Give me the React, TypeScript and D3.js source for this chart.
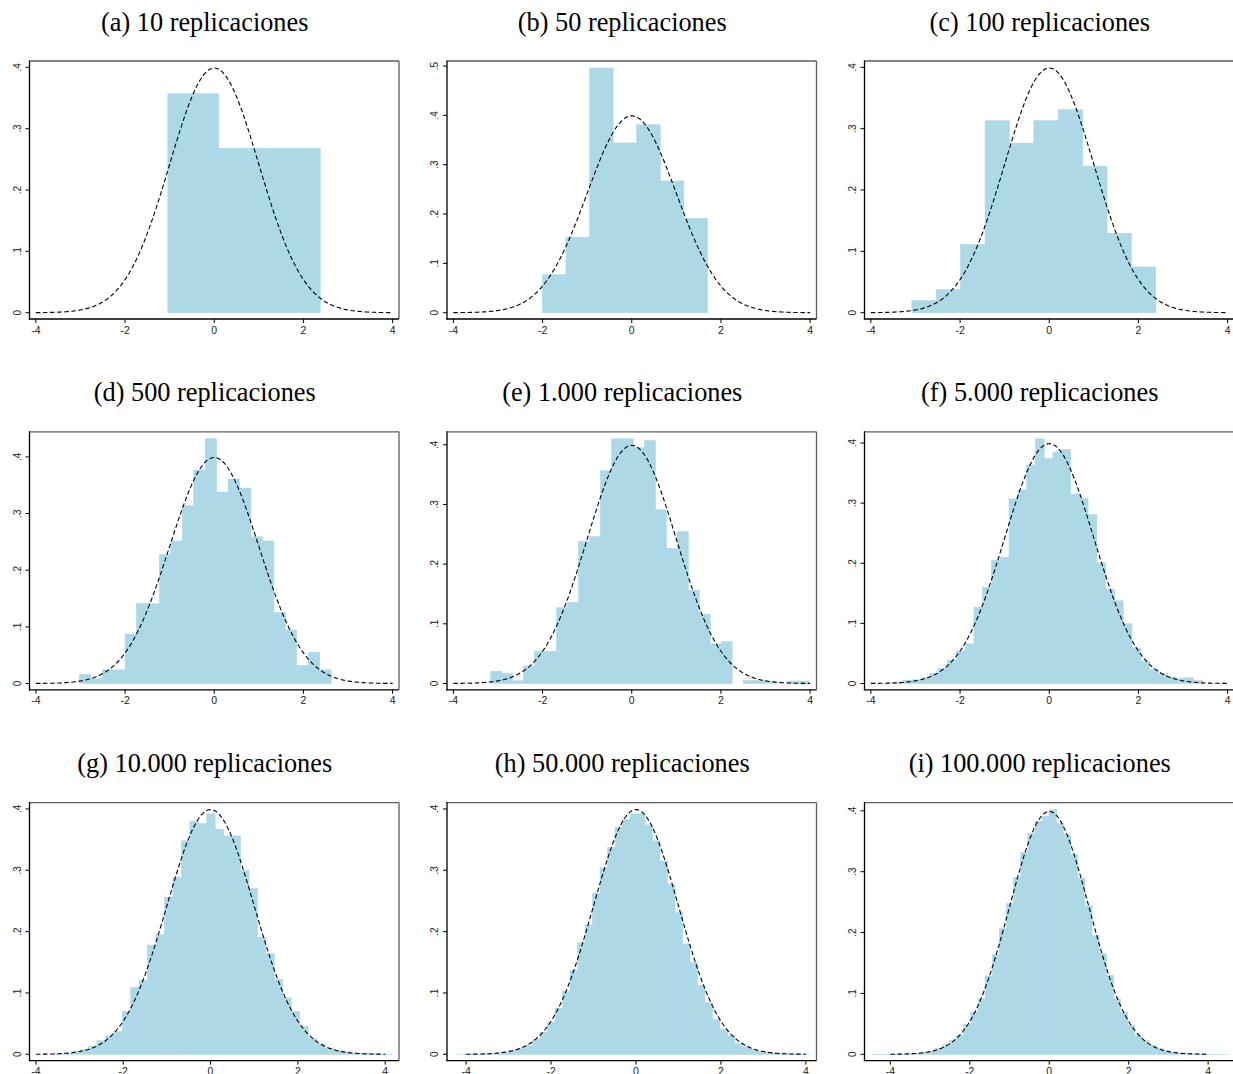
import React from "react";
import * as d3 from "d3";

// Panel titles, in reading order
const panelTitles = [
  "(a) 10 replicaciones",
  "(b) 50 replicaciones",
  "(c) 100 replicaciones",
  "(d) 500 replicaciones",
  "(e) 1.000 replicaciones",
  "(f) 5.000 replicaciones",
  "(g) 10.000 replicaciones",
  "(h) 50.000 replicaciones",
  "(i) 100.000 replicaciones",
];

// Left edge of the first bin and bin width for each histogram
const binStarts = [-1.04, -2.004, -3.08, -3.025, -3.163, -3.66, -3.57, -4.2, -4.4875];
const binWidths = [1.139, 0.5287, 0.547, 0.2566, 0.2462, 0.197, 0.1935, 0.1765, 0.1795];

// Horizontal axis limits of each panel
const xDomains: [number, number][] = [
  [-4, 4], [-4, 4], [-4, 4],
  [-4, 4], [-4, 4], [-4, 4],
  [-4, 4.17], [-4.3, 4.1], [-4.49, 4.49],
];

// Bin densities per histogram
const densA = [0.357, 0.268, 0.268];
const densB = [0.077, 0.153, 0.496, 0.344, 0.381, 0.267, 0.191];
const densC = [0.0196, 0.0376, 0.111, 0.313, 0.2765, 0.313, 0.331, 0.239, 0.1295, 0.0746];
const densD = [
  0.0158, 0.0082, 0.024, 0.024, 0.0874, 0.141, 0.141, 0.2276, 0.2516, 0.3138, 0.377,
  0.432, 0.338, 0.361, 0.345, 0.259, 0.2516, 0.1255, 0.0944, 0.0317, 0.0551, 0.024,
];
const densE = [
  0.0206, 0.0167, 0.0045, 0.029, 0.054, 0.054, 0.127, 0.136, 0.238, 0.246, 0.3565,
  0.41, 0.41, 0.395, 0.407, 0.291, 0.226, 0.2546, 0.156, 0.116, 0.0663, 0.07, 0,
  0.005, 0.005, 0.004, 0, 0.004, 0.004,
];
const densF = [
  0.001, 0.002, 0.0055, 0.006, 0.0099, 0.017, 0.025, 0.039, 0.054, 0.066, 0.127, 0.16,
  0.205, 0.21, 0.307, 0.322, 0.3635, 0.407, 0.374, 0.385, 0.389, 0.315, 0.308, 0.281,
  0.2006, 0.157, 0.1376, 0.0994, 0.059, 0.0376, 0.023, 0.0166, 0.011, 0.009, 0.0094, 0.005,
];
const densG = [
  0.0005, 0.001, 0.004, 0.008, 0.0126, 0.022, 0.03, 0.037, 0.07, 0.109, 0.12, 0.178,
  0.195, 0.256, 0.288, 0.348, 0.38, 0.376, 0.392, 0.367, 0.356, 0.356, 0.3, 0.27, 0.191,
  0.164, 0.122, 0.092, 0.07, 0.045, 0.026, 0.017, 0.01, 0.006, 0.004, 0.002, 0.001,
  0.001, 0.0005, 0.0005,
];
const densH = [
  0.0001, 0.00015, 0.0003, 0.0006, 0.0011, 0.0019, 0.0034, 0.0058, 0.0094, 0.014,
  0.0245, 0.036, 0.052, 0.075, 0.103, 0.137, 0.182, 0.211, 0.262, 0.304, 0.337, 0.37,
  0.383, 0.392, 0.392, 0.374, 0.348, 0.315, 0.2765, 0.231, 0.18, 0.15, 0.112, 0.084,
  0.057, 0.041, 0.03, 0.018, 0.0125, 0.008, 0.005, 0.003, 0.002, 0.001, 0.0006, 0.0003,
  0.0002,
];
const densI = [
  0.00003, 0.00005, 0.0001, 0.00023, 0.00047, 0.00087, 0.0016, 0.0029, 0.005, 0.0098,
  0.0153, 0.0224, 0.0317, 0.049, 0.0695, 0.091, 0.1286, 0.164, 0.207, 0.248, 0.2906,
  0.3316, 0.3628, 0.383, 0.391, 0.402, 0.379, 0.361, 0.328, 0.2895, 0.244, 0.1948,
  0.166, 0.13, 0.091, 0.069, 0.048, 0.0317, 0.0224, 0.0148, 0.0093, 0.0057, 0.0033,
  0.0019, 0.001, 0.0006, 0.0003, 0.00015, 0.00008, 0.00005,
];
const densities = [densA, densB, densC, densD, densE, densF, densG, densH, densI];

// Axis ticks
const xTicks = [-4, -2, 0, 2, 4];
const yTicksStd = [0, 0.1, 0.2, 0.3, 0.4];
const yTicksWide = [0, 0.1, 0.2, 0.3, 0.4, 0.5];

// Range of the standard normal overlay
const curveRange = [-4, 4];

// Layout
const W = 1233;
const H = 1074;
const frameLeft0 = 29.5;
const colStep = 417.5;
const frameW = 369.5;
const frameTop0 = 61;
const rowStep = 370.8;
const frameH = 258;
const padX = 6.4;
const padTop = 7;
const padBottom = 6.3;

const barColor = "#add8e6";
const tickFont = "'Liberation Sans', Arial, Helvetica, sans-serif";
const titleFont = "'Liberation Serif', 'Times New Roman', Times, serif";

const normalPdf = (x: number) => Math.exp(-0.5 * x * x) / Math.sqrt(2 * Math.PI);

const fmtY = (v: number) => (v === 0 ? "0" : d3.format(".1f")(v).replace(/^0/, ""));
const fmtX = (v: number) => String(v);

function Panel({ index }: { index: number }) {
  const col = index % 3;
  const row = Math.floor(index / 3);
  const left = frameLeft0 + col * colStep;
  const top = frameTop0 + row * rowStep;
  const right = left + frameW;
  const bottom = top + frameH;

  const dens = densities[index];
  const x0 = binStarts[index];
  const bw = binWidths[index];
  const bins = dens.map((d, i) => ({ a: x0 + i * bw, b: x0 + (i + 1) * bw, d }));

  const yMax = Math.max(d3.max(dens) as number, normalPdf(0));

  const x = d3.scaleLinear().domain(xDomains[index]).range([left + padX, right - padX]);
  const y = d3.scaleLinear().domain([0, yMax]).range([bottom - padBottom, top + padTop]);

  const yTicks = yMax > 0.45 ? yTicksWide : yTicksStd;

  const curvePts = d3
    .range(curveRange[0], curveRange[1] + 1e-9, 0.02)
    .map((v) => [v, normalPdf(v)] as [number, number]);
  const line = d3
    .line<[number, number]>()
    .x((p) => x(p[0]))
    .y((p) => y(p[1]));

  return (
    <g>
      <text
        x={left + frameW / 2 - 9.5}
        y={top - 30.5}
        textAnchor="middle"
        fontFamily={titleFont}
        fontSize={26.3}
        fill="#000"
      >
        {panelTitles[index]}
      </text>

      {bins.map((bn, i) => (
        <rect
          key={i}
          x={x(bn.a)}
          y={y(bn.d)}
          width={Math.max(0, x(bn.b) - x(bn.a))}
          height={Math.max(0, y(0) - y(bn.d))}
          fill={barColor}
          stroke={barColor}
          strokeWidth={0.6}
        />
      ))}

      <path
        d={line(curvePts) || ""}
        fill="none"
        stroke="#000"
        strokeWidth={1.1}
        strokeDasharray="4.5,2.6"
      />

      {/* plot frame */}
      <line x1={left} y1={top} x2={right} y2={top} stroke="#5e5e5e" strokeWidth={1.3} />
      <line x1={right} y1={top} x2={right} y2={bottom} stroke="#5e5e5e" strokeWidth={1.3} />
      <line x1={left} y1={top - 0.6} x2={left} y2={bottom + 0.6} stroke="#000" strokeWidth={1.3} />
      <line x1={left - 0.6} y1={bottom} x2={right} y2={bottom} stroke="#000" strokeWidth={1.3} />

      {xTicks.map((t) => (
        <g key={"x" + t}>
          <line x1={x(t)} y1={bottom} x2={x(t)} y2={bottom + 4} stroke="#000" strokeWidth={1} />
          <text
            x={x(t)}
            y={bottom + 14.5}
            textAnchor="middle"
            fontFamily={tickFont}
            fontSize={10.5}
            fill="#222"
          >
            {fmtX(t)}
          </text>
        </g>
      ))}

      {yTicks.map((t) => (
        <g key={"y" + t}>
          <line x1={left - 4} y1={y(t)} x2={left} y2={y(t)} stroke="#000" strokeWidth={1} />
          <text
            transform={`translate(${left - 9},${y(t)}) rotate(-90)`}
            textAnchor="middle"
            fontFamily={tickFont}
            fontSize={10}
            fill="#222"
          >
            {fmtY(t)}
          </text>
        </g>
      ))}
    </g>
  );
}

export default function App() {
  return (
    <svg
      width={W}
      height={H}
      viewBox={`0 0 ${W} ${H}`}
      style={{ position: "absolute", left: 0, top: 0, background: "#fff" }}
    >
      <rect x={0} y={0} width={W} height={H} fill="#fff" />
      {panelTitles.map((_, i) => (
        <Panel key={i} index={i} />
      ))}
    </svg>
  );
}
